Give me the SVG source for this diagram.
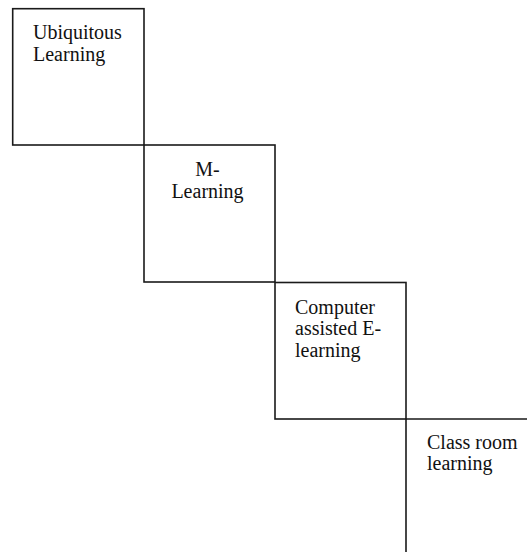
<svg xmlns="http://www.w3.org/2000/svg" width="527" height="552" viewBox="0 0 527 552">
<style>
.box{fill:none;stroke:#1a1a1a;stroke-width:1.6}
.t{font-family:"Liberation Serif","Times New Roman",serif;font-size:20px;fill:#111}
</style>
<rect width="527" height="552" fill="#fff"/>
<g id="ubiquitous">
<rect class="box" x="12.7" y="8.7" width="131.3" height="136.3"/>
<text class="t" x="33" y="39">Ubiquitous</text>
<text class="t" x="33" y="61">Learning</text>
</g>
<g id="mlearning">
<rect class="box" x="144" y="145" width="131" height="137"/>
<text class="t" x="207.5" y="176" text-anchor="middle">M-</text>
<text class="t" x="207.5" y="197.5" text-anchor="middle">Learning</text>
</g>
<g id="computer">
<rect class="box" x="275" y="282.5" width="131" height="136.5"/>
<text class="t" x="295" y="313.5">Computer</text>
<text class="t" x="295" y="335">assisted E-</text>
<text class="t" x="295" y="356.5">learning</text>
</g>
<g id="classroom">
<path class="box" d="M406 560 V419 H535"/>
<text class="t" x="427" y="448.5">Class room</text>
<text class="t" x="427" y="470">learning</text>
</g>
<g id="connectors"></g>
</svg>
